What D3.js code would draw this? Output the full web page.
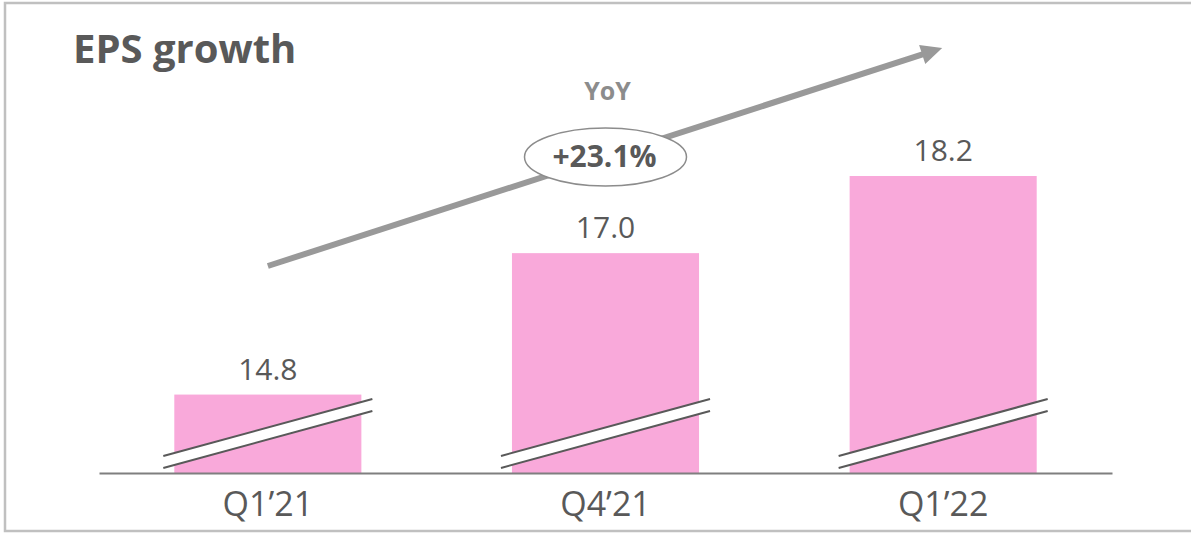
<!DOCTYPE html>
<html>
<head>
<meta charset="utf-8">
<script src="https://cdn.jsdelivr.net/npm/d3@7"></script>
<style>
    html, body { margin: 0; padding: 0; background: #fff; }
    svg { display: block; font-family: "Open Sans", "DejaVu Sans", sans-serif; }
</style>
</head>
<body>
<div id="chart"></div>
<script>
// Chart data
const categories = ['Q1\u201921', 'Q4\u201921', 'Q1\u201922'];
const eps = [14.8, 17.0, 18.2];
const valueLabels = ['14.8', '17.0', '18.2'];
const yoyLabel = '+23.1%';

const width = 1191;
const height = 534;
const baseY = 473;
const textColor = '#595959';

const svg = d3.select('#chart')
    .append('svg')
    .attr('width', width)
    .attr('height', height);

// frame (right edge falls outside the picture)
svg.append('rect')
    .attr('x', 5)
    .attr('y', 3)
    .attr('width', 1200)
    .attr('height', 528)
    .attr('fill', 'none')
    .attr('stroke', '#c0c0c0')
    .attr('stroke-width', 2.5);

svg.append('text')
    .attr('x', 73)
    .attr('y', 63)
    .attr('fill', textColor)
    .style('font-size', '40px')
    .style('font-weight', 700)
    .text('EPS growth');

const x = d3.scaleBand()
    .domain(categories)
    .range([99, 1112])
    .paddingInner(0.446)
    .paddingOuter(0.223);

// broken axis: bars start well above zero
const y = d3.scaleLinear()
    .domain([13.58, 18.2])
    .range([baseY, 176]);

const data = categories.map((c, i) => ({ cat: c, value: eps[i], label: valueLabels[i] }));

svg.selectAll('.bar')
    .data(data)
    .enter()
    .append('rect')
    .attr('class', 'bar')
    .attr('x', d => x(d.cat))
    .attr('y', d => y(d.value))
    .attr('width', x.bandwidth())
    .attr('height', d => y.range()[0] - y(d.value))
    .attr('fill', '#f9a9da');

svg.selectAll('.value')
    .data(data)
    .enter()
    .append('text')
    .attr('class', 'value')
    .attr('x', d => x(d.cat) + x.bandwidth() / 2)
    .attr('y', d => y(d.value) - 15)
    .attr('text-anchor', 'middle')
    .attr('fill', textColor)
    .style('font-size', '30px')
    .text(d => d.label);

// break marks across every bar
const brk = svg.selectAll('.brk')
    .data(data)
    .enter()
    .append('g')
    .attr('class', 'brk')
    .attr('transform', d => 'translate(' + (x(d.cat) - 11) + ',' + baseY + ')');

const bw = x.bandwidth() + 22;
brk.append('path')
    .attr('d', 'M0,-17 L' + bw + ',-74 L' + bw + ',-62 L0,-5 Z')
    .attr('fill', '#fff');
brk.append('path')
    .attr('d', 'M0,-17 L' + bw + ',-74 M0,-5 L' + bw + ',-62')
    .attr('fill', 'none')
    .attr('stroke', textColor)
    .attr('stroke-width', 2);

const axis = svg.append('g')
    .attr('transform', 'translate(0,' + baseY + ')')
    .call(d3.axisBottom(x).tickSize(0).tickSizeOuter(0));

axis.select('.domain')
    .attr('stroke', '#7f7f7f')
    .attr('stroke-width', 1.8);

axis.selectAll('.tick text')
    .attr('y', 0)
    .attr('dy', 43)
    .attr('fill', textColor)
    .style('font-family', '"Open Sans", "DejaVu Sans", sans-serif')
    .style('font-size', '34px');

// growth arrow from first to last bar
const x0 = x(categories[0]) + x.bandwidth() / 2;
const x1 = x(categories[2]) + x.bandwidth() / 2 - 1;
const y0 = 266;
const y1 = 48;
const ang = Math.atan2(y1 - y0, x1 - x0);
const headLen = 21;
const headW = 10;
const bx = x1 - headLen * Math.cos(ang);
const by = y1 - headLen * Math.sin(ang);

svg.append('line')
    .attr('x1', x0)
    .attr('y1', y0)
    .attr('x2', bx + 2 * Math.cos(ang))
    .attr('y2', by + 2 * Math.sin(ang))
    .attr('stroke', '#999999')
    .attr('stroke-width', 6);

svg.append('path')
    .attr('d', 'M' + x1 + ',' + y1 +
        ' L' + (bx - headW * Math.sin(ang)) + ',' + (by + headW * Math.cos(ang)) +
        ' L' + (bx + headW * Math.sin(ang)) + ',' + (by - headW * Math.cos(ang)) + ' Z')
    .attr('fill', '#999999');

// YoY bubble
const cx = x(categories[1]) + x.bandwidth() / 2;

svg.append('text')
    .attr('x', cx + 2)
    .attr('y', 100)
    .attr('text-anchor', 'middle')
    .attr('fill', '#8c8c8c')
    .style('font-size', '25px')
    .style('font-weight', 700)
    .text('YoY');

svg.append('ellipse')
    .attr('cx', cx)
    .attr('cy', 157)
    .attr('rx', 81)
    .attr('ry', 29)
    .attr('fill', '#fff')
    .attr('stroke', '#8c8c8c')
    .attr('stroke-width', 1.5);

svg.append('text')
    .attr('x', cx - 1)
    .attr('y', 167)
    .attr('text-anchor', 'middle')
    .attr('fill', textColor)
    .style('font-size', '30px')
    .style('font-weight', 700)
    .text(yoyLabel);
</script>
</body>
</html>
